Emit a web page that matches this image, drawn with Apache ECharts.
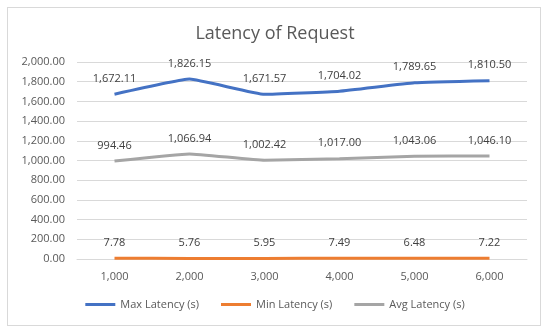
<!DOCTYPE html>
<html><head><meta charset="utf-8">
<script src="https://cdn.jsdelivr.net/npm/echarts@6/dist/echarts.min.js"></script>
<style>html,body{margin:0;padding:0;background:#fff}#c{width:550px;height:334px}
#frame{position:absolute;left:7px;top:7px;width:534px;height:319px;border:1px solid #d9d9d9;box-sizing:border-box;pointer-events:none}</style>
</head><body><div id="c"></div><div id="frame"></div>
<script>
const categories = ['1,000','2,000','3,000','4,000','5,000','6,000'];
const maxLatency = [1672.11, 1826.15, 1671.57, 1704.02, 1789.65, 1810.50];
const minLatency = [7.78, 5.76, 5.95, 7.49, 6.48, 7.22];
const avgLatency = [994.46, 1066.94, 1002.42, 1017.00, 1043.06, 1046.10];
const seriesNames = ['Max Latency (s)', 'Min Latency (s)', 'Avg Latency (s)'];
const colors = ['#4472C4', '#ED7D31', '#A5A5A5'];

const fmt = v => v.toLocaleString('en-US', {minimumFractionDigits: 2, maximumFractionDigits: 2});
const font = '"Open Sans", "Liberation Sans", sans-serif';
const chart = echarts.init(document.getElementById('c'));
function mk(name, data, color) {
  return {
    name, type: 'line', data, smooth: 0.1, symbol: 'circle', symbolSize: 0, showSymbol: true,
    lineStyle: {color, width: 3}, itemStyle: {color},
    label: {show: true, position: 'top', distance: 10, formatter: p => fmt(p.value),
      color: '#404040', fontSize: 11, fontFamily: font}
  };
}
chart.setOption({
  animation: false,
  color: colors,
  title: {text: 'Latency of Request', left: 'center', top: 20,
    textStyle: {fontFamily: font, fontSize: 18, fontWeight: 'normal', color: '#595959'}},
  grid: {left: 77, right: 23, top: 62, bottom: 75},
  legend: {bottom: 19, itemWidth: 30, itemHeight: 3, itemGap: 22, icon: 'rect',
    textStyle: {fontFamily: font, fontSize: 11, color: '#595959'}, data: seriesNames},
  xAxis: {type: 'category', data: categories, boundaryGap: true,
    axisLine: {lineStyle: {color: '#d9d9d9'}}, axisTick: {show: false},
    axisLabel: {color: '#595959', fontSize: 11, fontFamily: font, margin: 12}},
  yAxis: {type: 'value', min: 0, max: 2000, interval: 200,
    axisLine: {show: false}, axisTick: {show: false},
    splitLine: {lineStyle: {color: '#d9d9d9'}},
    axisLabel: {color: '#595959', fontSize: 11, fontFamily: font, formatter: fmt, margin: 12}},
  series: [mk(seriesNames[0], maxLatency, colors[0]), mk(seriesNames[1], minLatency, colors[1]), mk(seriesNames[2], avgLatency, colors[2])]
});
</script></body></html>
